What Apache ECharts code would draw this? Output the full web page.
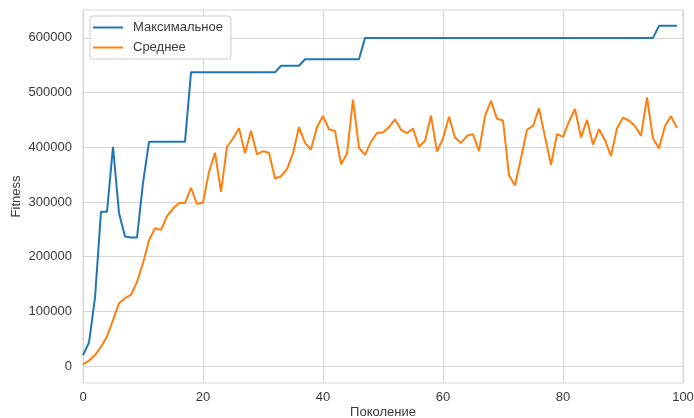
<!DOCTYPE html>
<html>
<head>
<meta charset="utf-8">
<script src="https://cdn.jsdelivr.net/npm/echarts@6/dist/echarts.min.js"></script>
<style>
  html, body { margin: 0; padding: 0; background: #fff; }
  #chart { width: 694px; height: 418px; }
</style>
</head>
<body>
<div id="chart"></div>
<script>
// Максимальное / Среднее fitness per generation (0..99)
const generations = Array.from({ length: 100 }, (_, i) => i)

const maxFitness = [
  20000, 43000, 125000, 282000, 282000, 401000, 280000, 237000, 235000, 235000,
  335000, 410000, 410000, 410000, 410000, 410000, 410000, 410000, 537000, 537000,
  537000, 537000, 537000, 537000, 537000, 537000, 537000, 537000, 537000, 537000,
  537000, 537000, 537000, 549000, 549000, 549000, 549000, 561000, 561000, 561000,
  561000, 561000, 561000, 561000, 561000, 561000, 561000, 600000, 600000, 600000,
  600000, 600000, 600000, 600000, 600000, 600000, 600000, 600000, 600000, 600000,
  600000, 600000, 600000, 600000, 600000, 600000, 600000, 600000, 600000, 600000,
  600000, 600000, 600000, 600000, 600000, 600000, 600000, 600000, 600000, 600000,
  600000, 600000, 600000, 600000, 600000, 600000, 600000, 600000, 600000, 600000,
  600000, 600000, 600000, 600000, 600000, 600000, 622000, 622000, 622000, 622000
]

const avgFitness = [
  3000, 10000, 20000, 35000, 54000, 84000, 115000, 124000, 130000, 154000,
  188000, 230000, 252000, 249000, 274000, 288000, 298000, 298000, 326000, 296000,
  299000, 355000, 390000, 319000, 401000, 416000, 435000, 389000, 430000, 387000,
  393000, 390000, 343000, 347000, 360000, 389000, 437000, 408000, 396000, 437000,
  457000, 433000, 430000, 369000, 388000, 487000, 399000, 386000, 410000, 426000,
  427000, 437000, 451000, 432000, 426000, 434000, 401000, 412000, 458000, 392000,
  416000, 456000, 418000, 408000, 421000, 424000, 393000, 457000, 485000, 452000,
  449000, 349000, 330000, 380000, 432000, 439000, 471000, 419000, 368000, 424000,
  419000, 447000, 470000, 418000, 450000, 405000, 433000, 413000, 384000, 435000,
  454000, 449000, 439000, 421000, 491000, 416000, 398000, 439000, 457000, 435000
]

const yTicks = [0, 100000, 200000, 300000, 400000, 500000, 600000]

const chart = echarts.init(document.getElementById('chart'))

const textColor = '#3a3a3a'
const gridColor = '#d6d6d6'

chart.setOption({
  animation: false,
  backgroundColor: '#fff',
  textStyle: { fontFamily: 'Liberation Sans, Arial, sans-serif' },
  grid: {
    left: 83, right: 11, top: 10, bottom: 35,
    outerBoundsMode: 'none',
    containLabel: false,
    show: true, borderColor: gridColor, borderWidth: 1
  },
  legend: {
    orient: 'vertical',
    left: 90, top: 16,
    padding: [4, 8, 4, 3],
    icon: 'rect',
    itemWidth: 30, itemHeight: 2, itemGap: 5,
    backgroundColor: '#fff',
    borderColor: '#cfcfcf', borderWidth: 1, borderRadius: 3,
    textStyle: { color: textColor, fontSize: 13, lineHeight: 15, padding: [0, 0, 0, 5] },
    data: ['Максимальное', 'Среднее']
  },
  xAxis: {
    type: 'value',
    min: 0, max: 100, interval: 20,
    name: 'Поколение',
    nameLocation: 'middle',
    nameGap: 23,
    nameMoveOverlap: false,
    nameTextStyle: { color: textColor, fontSize: 13 },
    axisLine: { show: false },
    axisTick: { show: false },
    axisLabel: { color: textColor, fontSize: 13, margin: 8 },
    splitLine: { show: true, lineStyle: { color: gridColor, width: 1 } }
  },
  yAxis: {
    type: 'value',
    min: -31000, max: 651000,
    name: 'Fitness',
    nameLocation: 'middle',
    nameGap: 60,
    nameMoveOverlap: false,
    nameTextStyle: { color: textColor, fontSize: 13 },
    axisLine: { show: false },
    axisTick: { show: false, customValues: yTicks },
    axisLabel: {
      color: textColor, fontSize: 13, margin: 11,
      customValues: yTicks,
      formatter: v => String(v)
    },
    splitLine: { show: true, lineStyle: { color: gridColor, width: 1 } }
  },
  series: [
    {
      name: 'Максимальное',
      type: 'line',
      symbol: 'none',
      data: generations.map((g, i) => [g, maxFitness[i]]),
      lineStyle: { color: '#1f77b4', width: 2 },
      itemStyle: { color: '#1f77b4' }
    },
    {
      name: 'Среднее',
      type: 'line',
      symbol: 'none',
      data: generations.map((g, i) => [g, avgFitness[i]]),
      lineStyle: { color: '#ff7f0e', width: 2 },
      itemStyle: { color: '#ff7f0e' }
    }
  ]
})
</script>
</body>
</html>
